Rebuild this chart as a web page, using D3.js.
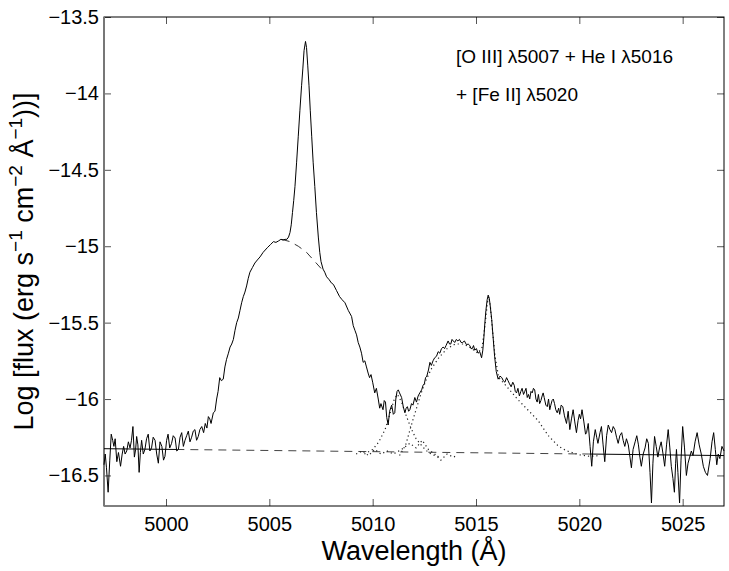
<!DOCTYPE html>
<html>
<head>
<meta charset="utf-8">
<script src="https://cdn.jsdelivr.net/npm/d3@7"></script>
<style>
  body { margin: 0; background: #fff; }
  svg { display: block; }
  text { font-family: "Liberation Sans", Arial, Helvetica, sans-serif; fill: #000; }
</style>
</head>
<body>
<svg id="chart" width="729" height="571"></svg>
<script>
// observed spectrum: [wavelength (A), log flux]
var spectrum = [
  [4997.00,-16.43],[4997.06,-16.36],[4997.12,-16.45],[4997.20,-16.61],[4997.28,-16.40],
  [4997.35,-16.23],[4997.42,-16.27],[4997.48,-16.31],[4997.54,-16.26],[4997.62,-16.41],
  [4997.70,-16.35],[4997.80,-16.44],[4997.88,-16.36],[4997.95,-16.31],[4998.02,-16.36],
  [4998.10,-16.34],[4998.18,-16.28],[4998.26,-16.32],[4998.33,-16.27],[4998.40,-16.18],
  [4998.47,-16.38],[4998.53,-16.33],[4998.58,-16.245],[4998.64,-16.30],[4998.70,-16.48],
  [4998.76,-16.35],[4998.82,-16.27],[4998.90,-16.36],[4998.98,-16.33],[4999.06,-16.26],
  [4999.14,-16.23],[4999.22,-16.34],[4999.30,-16.32],[4999.38,-16.25],[4999.47,-16.27],
  [4999.55,-16.36],[4999.63,-16.42],[4999.71,-16.28],[4999.80,-16.31],[4999.88,-16.40],
  [4999.95,-16.375],[5000.03,-16.27],[5000.10,-16.23],[5000.18,-16.32],[5000.27,-16.29],
  [5000.35,-16.24],[5000.44,-16.255],[5000.52,-16.34],[5000.60,-16.33],[5000.68,-16.25],
  [5000.76,-16.22],[5000.84,-16.31],[5000.92,-16.27],[5001.00,-16.24],[5001.08,-16.21],
  [5001.16,-16.28],[5001.24,-16.25],[5001.32,-16.21],[5001.40,-16.20],[5001.48,-16.27],
  [5001.56,-16.245],[5001.64,-16.20],[5001.73,-16.18],[5001.82,-16.22],[5001.90,-16.16],
  [5001.98,-16.19],[5002.05,-16.115],[5002.12,-16.13],[5002.18,-16.16],[5002.29,-16.09],
  [5002.37,-16.08],[5002.45,-16.00],[5002.52,-15.95],[5002.60,-15.86],[5002.68,-15.88],
  [5002.77,-15.87],[5002.85,-15.79],[5002.93,-15.74],[5003.02,-15.70],[5003.10,-15.66],
  [5003.18,-15.64],[5003.26,-15.61],[5003.34,-15.55],[5003.42,-15.50],[5003.50,-15.47],
  [5003.58,-15.42],[5003.66,-15.37],[5003.74,-15.33],[5003.82,-15.30],[5003.90,-15.26],
  [5003.98,-15.21],[5004.06,-15.17],[5004.18,-15.14],[5004.30,-15.11],[5004.42,-15.09],
  [5004.55,-15.07],[5004.70,-15.04],[5004.90,-15.01],[5005.05,-14.99],[5005.20,-14.97],
  [5005.32,-14.975],[5005.45,-14.965],[5005.56,-14.955],[5005.66,-14.96],[5005.76,-14.955],
  [5005.85,-14.955],[5005.93,-14.94],[5006.00,-14.91],[5006.06,-14.86],[5006.12,-14.78],
  [5006.18,-14.70],[5006.24,-14.61],[5006.32,-14.45],[5006.40,-14.28],[5006.48,-14.11],
  [5006.56,-13.95],[5006.62,-13.84],[5006.68,-13.72],[5006.75,-13.66],[5006.80,-13.70],
  [5006.86,-13.82],[5006.92,-13.95],[5006.98,-14.11],[5007.05,-14.28],[5007.12,-14.45],
  [5007.20,-14.61],[5007.28,-14.78],[5007.37,-14.94],[5007.44,-15.04],[5007.50,-15.10],
  [5007.60,-15.15],[5007.68,-15.17],[5007.77,-15.20],[5007.90,-15.22],[5008.00,-15.24],
  [5008.10,-15.25],[5008.25,-15.29],[5008.40,-15.33],[5008.52,-15.35],[5008.66,-15.37],
  [5008.82,-15.42],[5008.98,-15.46],[5009.06,-15.52],[5009.14,-15.55],[5009.22,-15.58],
  [5009.30,-15.63],[5009.38,-15.66],[5009.46,-15.70],[5009.54,-15.76],[5009.62,-15.75],
  [5009.70,-15.79],[5009.78,-15.83],[5009.85,-15.86],[5009.92,-15.84],[5010.00,-15.89],
  [5010.10,-15.96],[5010.18,-15.93],[5010.27,-16.00],[5010.34,-16.06],[5010.40,-16.03],
  [5010.50,-16.07],[5010.56,-16.01],[5010.62,-16.02],[5010.68,-16.12],[5010.75,-16.17],
  [5010.82,-16.08],[5010.92,-16.04],[5011.00,-16.10],[5011.07,-16.09],[5011.12,-16.00],
  [5011.18,-15.95],[5011.24,-15.94],[5011.30,-15.96],[5011.40,-15.99],[5011.48,-16.05],
  [5011.56,-16.09],[5011.62,-16.06],[5011.68,-16.05],[5011.74,-16.08],[5011.80,-16.07],
  [5011.88,-16.03],[5011.95,-16.04],[5012.04,-15.99],[5012.12,-16.02],[5012.20,-15.98],
  [5012.28,-15.96],[5012.37,-15.94],[5012.44,-15.91],[5012.50,-15.90],[5012.56,-15.86],
  [5012.62,-15.85],[5012.70,-15.81],[5012.77,-15.76],[5012.84,-15.78],[5012.92,-15.75],
  [5013.00,-15.73],[5013.09,-15.72],[5013.17,-15.69],[5013.25,-15.70],[5013.33,-15.67],
  [5013.41,-15.66],[5013.48,-15.67],[5013.55,-15.65],[5013.65,-15.62],[5013.72,-15.64],
  [5013.78,-15.64],[5013.84,-15.61],[5013.90,-15.62],[5013.97,-15.63],[5014.05,-15.61],
  [5014.12,-15.62],[5014.20,-15.61],[5014.28,-15.63],[5014.35,-15.63],[5014.44,-15.62],
  [5014.54,-15.645],[5014.62,-15.64],[5014.70,-15.65],[5014.76,-15.67],[5014.82,-15.67],
  [5014.88,-15.65],[5014.94,-15.68],[5015.02,-15.67],[5015.10,-15.70],[5015.18,-15.69],
  [5015.27,-15.73],[5015.33,-15.68],[5015.38,-15.60],[5015.43,-15.50],[5015.48,-15.42],
  [5015.54,-15.35],[5015.59,-15.32],[5015.64,-15.34],[5015.68,-15.38],[5015.76,-15.48],
  [5015.83,-15.60],[5015.90,-15.72],[5015.98,-15.82],[5016.07,-15.87],[5016.16,-15.85],
  [5016.25,-15.86],[5016.32,-15.88],[5016.40,-15.89],[5016.48,-15.86],[5016.55,-15.88],
  [5016.62,-15.90],[5016.70,-15.92],[5016.78,-15.89],[5016.85,-15.91],[5016.90,-15.95],
  [5016.96,-15.96],[5017.03,-15.93],[5017.10,-15.98],[5017.17,-15.95],[5017.23,-15.93],
  [5017.30,-15.97],[5017.36,-15.95],[5017.42,-15.93],[5017.48,-15.99],[5017.54,-15.97],
  [5017.60,-16.00],[5017.66,-15.95],[5017.72,-15.96],[5017.78,-15.93],[5017.84,-15.94],
  [5017.90,-16.00],[5017.96,-16.02],[5018.02,-15.97],[5018.08,-16.03],[5018.14,-16.01],
  [5018.20,-15.98],[5018.25,-15.96],[5018.30,-15.99],[5018.38,-16.04],[5018.45,-16.05],
  [5018.51,-16.00],[5018.57,-16.07],[5018.62,-16.04],[5018.68,-16.01],[5018.74,-16.00],
  [5018.80,-16.03],[5018.86,-16.07],[5018.93,-16.09],[5019.00,-16.06],[5019.05,-16.10],
  [5019.12,-16.04],[5019.20,-16.05],[5019.28,-16.11],[5019.38,-16.16],[5019.46,-16.08],
  [5019.54,-16.20],[5019.62,-16.13],[5019.70,-16.07],[5019.78,-16.15],[5019.86,-16.22],
  [5019.94,-16.14],[5020.00,-16.10],[5020.06,-16.13],[5020.13,-16.07],[5020.22,-16.15],
  [5020.30,-16.23],[5020.35,-16.22],[5020.43,-16.16],[5020.52,-16.31],[5020.60,-16.44],
  [5020.68,-16.28],[5020.77,-16.20],[5020.84,-16.25],[5020.90,-16.29],[5021.00,-16.22],
  [5021.07,-16.18],[5021.15,-16.30],[5021.23,-16.41],[5021.32,-16.24],[5021.40,-16.17],
  [5021.48,-16.20],[5021.56,-16.22],[5021.64,-16.18],[5021.72,-16.20],[5021.80,-16.25],
  [5021.88,-16.29],[5021.96,-16.24],[5022.05,-16.22],[5022.12,-16.27],[5022.20,-16.31],
  [5022.28,-16.26],[5022.37,-16.30],[5022.45,-16.38],[5022.52,-16.45],[5022.60,-16.33],
  [5022.70,-16.28],[5022.78,-16.24],[5022.86,-16.30],[5022.93,-16.38],[5023.00,-16.44],
  [5023.09,-16.36],[5023.18,-16.32],[5023.26,-16.26],[5023.34,-16.29],[5023.42,-16.48],
  [5023.49,-16.68],[5023.56,-16.42],[5023.64,-16.245],[5023.72,-16.31],[5023.80,-16.38],
  [5023.88,-16.32],[5023.96,-16.28],[5024.05,-16.36],[5024.13,-16.44],[5024.22,-16.30],
  [5024.30,-16.20],[5024.38,-16.32],[5024.45,-16.44],[5024.53,-16.52],[5024.60,-16.61],
  [5024.66,-16.42],[5024.70,-16.33],[5024.77,-16.48],[5024.85,-16.68],[5024.92,-16.40],
  [5025.00,-16.18],[5025.09,-16.32],[5025.18,-16.50],[5025.26,-16.42],[5025.34,-16.38],
  [5025.42,-16.34],[5025.50,-16.37],[5025.60,-16.28],[5025.70,-16.22],[5025.80,-16.30],
  [5025.90,-16.36],[5026.00,-16.44],[5026.10,-16.48],[5026.20,-16.50],[5026.33,-16.39],
  [5026.42,-16.28],[5026.50,-16.22],[5026.58,-16.33],[5026.65,-16.43],[5026.72,-16.36],
  [5026.80,-16.39],[5026.90,-16.31],[5027.00,-16.34]
];

// linear continuum fit: solid over the fitted windows, dashed between them
var continuumFit = [[4997.0,-16.325],[5000.5,-16.33],[5020.5,-16.36],[5027.0,-16.37]];

// broad [O III] component under the narrow peak
var broadOIII = [
  [5005.6,-14.955],[5006.0,-14.97],[5006.4,-15.0],[5006.8,-15.04],[5007.2,-15.1],[5007.6,-15.16]
];

// dotted model components
var narrowComp5011 = [
  [5009.6,-16.36],[5010.0,-16.33],[5010.3,-16.28],[5010.6,-16.2],[5010.85,-16.09],
  [5011.05,-16.0],[5011.2,-15.97],[5011.4,-16.02],[5011.6,-16.1],[5011.85,-16.19],
  [5012.1,-16.26],[5012.4,-16.31],[5012.7,-16.35],[5013.0,-16.37],[5013.3,-16.38]
];
var heFeModel = [
  [5011.3,-16.37],[5011.6,-16.3],[5011.85,-16.18],[5012.1,-16.07],[5012.35,-15.96],
  [5012.6,-15.87],[5012.85,-15.8],[5013.2,-15.73],[5013.6,-15.67],[5014.0,-15.64],
  [5014.4,-15.64],[5014.8,-15.67],[5015.1,-15.7],[5015.3,-15.66],[5015.45,-15.5],
  [5015.55,-15.37],[5015.62,-15.33],[5015.7,-15.4],[5015.8,-15.55],[5015.92,-15.72],
  [5016.1,-15.86],[5016.5,-15.92],[5017.0,-16.0],[5017.5,-16.07],[5018.0,-16.14],
  [5018.5,-16.24],[5019.0,-16.31],[5019.4,-16.34],[5020.0,-16.365],[5020.5,-16.375],
  [5021.0,-16.37]
];
var residualDots = [
  [5009.2,-16.36],[5009.5,-16.34],[5009.8,-16.37],[5010.1,-16.33],[5010.4,-16.36],
  [5010.7,-16.34],[5011.0,-16.36],[5011.4,-16.33],[5011.8,-16.29],[5012.1,-16.32],
  [5012.4,-16.27],[5012.7,-16.33],[5013.0,-16.36],[5013.3,-16.4],[5013.6,-16.36],
  [5013.9,-16.38],[5014.1,-16.37]
];

var xTicks = [5000, 5005, 5010, 5015, 5020, 5025];
var yTicks = [-16.5, -16, -15.5, -15, -14.5, -14, -13.5];
var xDomain = [4997, 5027];
var yDomain = [-16.7, -13.5];

(function() {
  var margin = {left: 104, top: 17, right: 5, bottom: 65};
  var svg = d3.select("#chart");
  var width = +svg.attr("width") - margin.left - margin.right;
  var height = +svg.attr("height") - margin.top - margin.bottom;

  var x = d3.scaleLinear().domain(xDomain).range([0, width]);
  var y = d3.scaleLinear().domain(yDomain).range([height, 0]);

  var g = svg.append("g")
    .attr("transform", "translate(" + margin.left + "," + margin.top + ")");

  var minus = function(v) { return String(v).replace("-", "\u2212"); };

  // axes, ticks pointing inwards on all four sides
  var axBottom = g.append("g")
    .attr("transform", "translate(0," + height + ")")
    .call(d3.axisBottom(x).tickValues(xTicks).tickSizeInner(-7).tickSizeOuter(0)
      .tickPadding(11).tickFormat(d3.format("d")));
  var axTop = g.append("g")
    .call(d3.axisTop(x).tickValues(xTicks).tickSizeInner(-7).tickSizeOuter(0).tickFormat(""));
  var axLeft = g.append("g")
    .call(d3.axisLeft(y).tickValues(yTicks).tickSizeInner(-7).tickSizeOuter(0)
      .tickPadding(5).tickFormat(minus));
  var axRight = g.append("g")
    .attr("transform", "translate(" + width + ",0)")
    .call(d3.axisRight(y).tickValues(yTicks).tickSizeInner(-7).tickSizeOuter(0).tickFormat(""));

  [axBottom, axTop, axLeft, axRight].forEach(function(a) {
    a.select(".domain").remove();
    a.selectAll(".tick line").attr("stroke", "#555");
    a.selectAll("text").style("font-size", "20px").attr("fill", "#000")
      .style("font-family", "'Liberation Sans', Arial, sans-serif");
  });

  g.append("rect")
    .attr("width", width).attr("height", height)
    .attr("fill", "none").attr("stroke", "#000").attr("stroke-width", 1);
  g.append("line")
    .attr("x1", 0).attr("x2", 0).attr("y1", 0).attr("y2", height)
    .attr("stroke", "#777").attr("stroke-width", 2);

  var line = d3.line()
    .x(function(d) { return x(d[0]); })
    .y(function(d) { return y(d[1]); });

  var plot = g.append("g");

  // continuum
  plot.append("path").datum(continuumFit.slice(0, 2))
    .attr("d", line).attr("fill", "none").attr("stroke", "#000").attr("stroke-width", 1);
  plot.append("path").datum(continuumFit.slice(1, 3))
    .attr("d", line).attr("fill", "none").attr("stroke", "#444").attr("stroke-width", 1)
    .attr("stroke-dasharray", "8,6");
  plot.append("path").datum(continuumFit.slice(2, 4))
    .attr("d", line).attr("fill", "none").attr("stroke", "#000").attr("stroke-width", 1);

  // broad component
  plot.append("path").datum(broadOIII)
    .attr("d", line).attr("fill", "none").attr("stroke", "#333").attr("stroke-width", 1)
    .attr("stroke-dasharray", "8,6");

  // dotted model curves
  [narrowComp5011, heFeModel, residualDots].forEach(function(c) {
    plot.append("path").datum(c)
      .attr("d", line).attr("fill", "none").attr("stroke", "#222").attr("stroke-width", 1.2)
      .attr("stroke-dasharray", "1.2,3");
  });

  // spectrum
  plot.append("path").datum(spectrum)
    .attr("d", line).attr("fill", "none").attr("stroke", "#000").attr("stroke-width", 1)
    .attr("stroke-linejoin", "round");

  // line identification
  var note = g.append("text").style("font-size", "19px")
    .attr("x", 352).attr("y", 46);
  note.append("tspan").text("[O III] \u03bb5007 + He I \u03bb5016");
  note.append("tspan").attr("x", 352).attr("dy", 38).text("+ [Fe II] \u03bb5020");

  // axis labels
  g.append("text")
    .attr("x", width / 2).attr("y", height + 54)
    .attr("text-anchor", "middle").style("font-size", "27px")
    .text("Wavelength (\u00c5)");

  var ylab = svg.append("text")
    .attr("transform", "translate(33," + (margin.top + height / 2) + ") rotate(-90)")
    .attr("text-anchor", "middle").style("font-size", "27px");
  ylab.append("tspan").text("Log [flux (erg s");
  ylab.append("tspan").attr("dy", -11).style("font-size", "19px").text("\u22121");
  ylab.append("tspan").attr("dy", 11).text(" cm");
  ylab.append("tspan").attr("dy", -11).style("font-size", "19px").text("\u22122");
  ylab.append("tspan").attr("dy", 11).text(" \u00c5");
  ylab.append("tspan").attr("dy", -11).style("font-size", "19px").text("\u22121");
  ylab.append("tspan").attr("dy", 11).text("))]");
})();
</script>
</body>
</html>
